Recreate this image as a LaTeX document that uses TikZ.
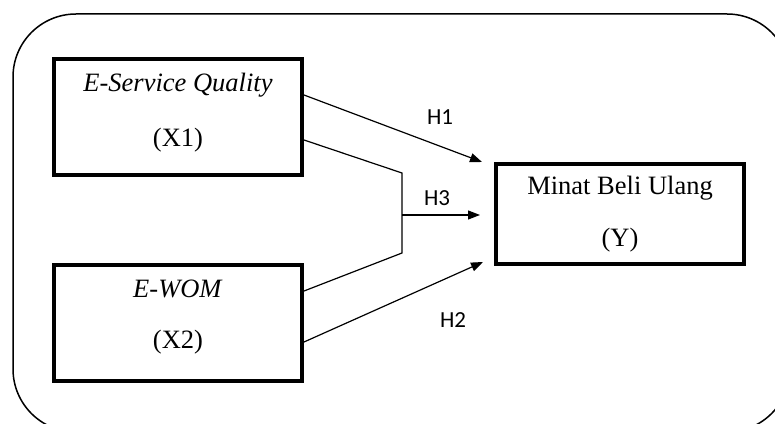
\documentclass[tikz,border=0pt]{standalone}
\usepackage{fontspec}
\setmainfont{Liberation Serif}
\newfontfamily\hfont{Carlito}
\usetikzlibrary{arrows.meta}
\begin{document}
\begin{tikzpicture}[x=1pt,y=1pt,
  varbox/.style={draw=black, line width=4pt, minimum width=248pt, inner sep=0pt},
  boxtext/.style={anchor=base, inner sep=0pt, font=\fontsize{26.5}{30}\selectfont},
  hlabel/.style={inner sep=0pt, font=\hfont\fontsize{23}{26}\selectfont},
  conn/.style={draw=black, line width=1.2pt},
  arr/.style={conn, -{Triangle[length=12pt,width=9pt]}}
]
\clip (0,0) rectangle (775,423);
\draw[line width=1.5pt, rounded corners=63pt] (13,409) rectangle (790,-9);

\node[varbox, minimum height=116pt] (x1) at (178,306) {};
\node[varbox, minimum height=116pt] (x2) at (178,100) {};
\node[varbox, minimum height=100pt] (y) at (620,209) {};

\node[boxtext] (x1a) at (178,331) {\textit{E-Service Quality}};
\node[boxtext] (x1b) at (178,276) {(X1)};
\node[boxtext] (x2a) at (178,126) {\textit{E-WOM}};
\node[boxtext] (x2b) at (178,75) {(X2)};
\node[boxtext] (ya) at (620,228) {Minat Beli Ulang};
\node[boxtext] (yb) at (620,176) {(Y)};

\coordinate (t1) at (482,261);
\coordinate (t3) at (480,208);
\coordinate (t2) at (483,161);
\coordinate (bt) at (402,250);
\coordinate (bb) at (402,170);
\coordinate (bm) at (402,208);

\draw[arr] ([yshift=22pt]x1.east) -- (t1);
\draw[arr] ([yshift=-19pt]x2.east) -- (t2);
\draw[conn] ([yshift=-23pt]x1.east) -- (bt) -- (bb) -- ([yshift=32pt]x2.east);
\draw[arr] (bm) -- (t3);

\node[hlabel] (h1) at (440,306) {H1};
\node[hlabel] (h3) at (437,225) {H3};
\node[hlabel] (h2) at (453,103) {H2};
\end{tikzpicture}
\end{document}
